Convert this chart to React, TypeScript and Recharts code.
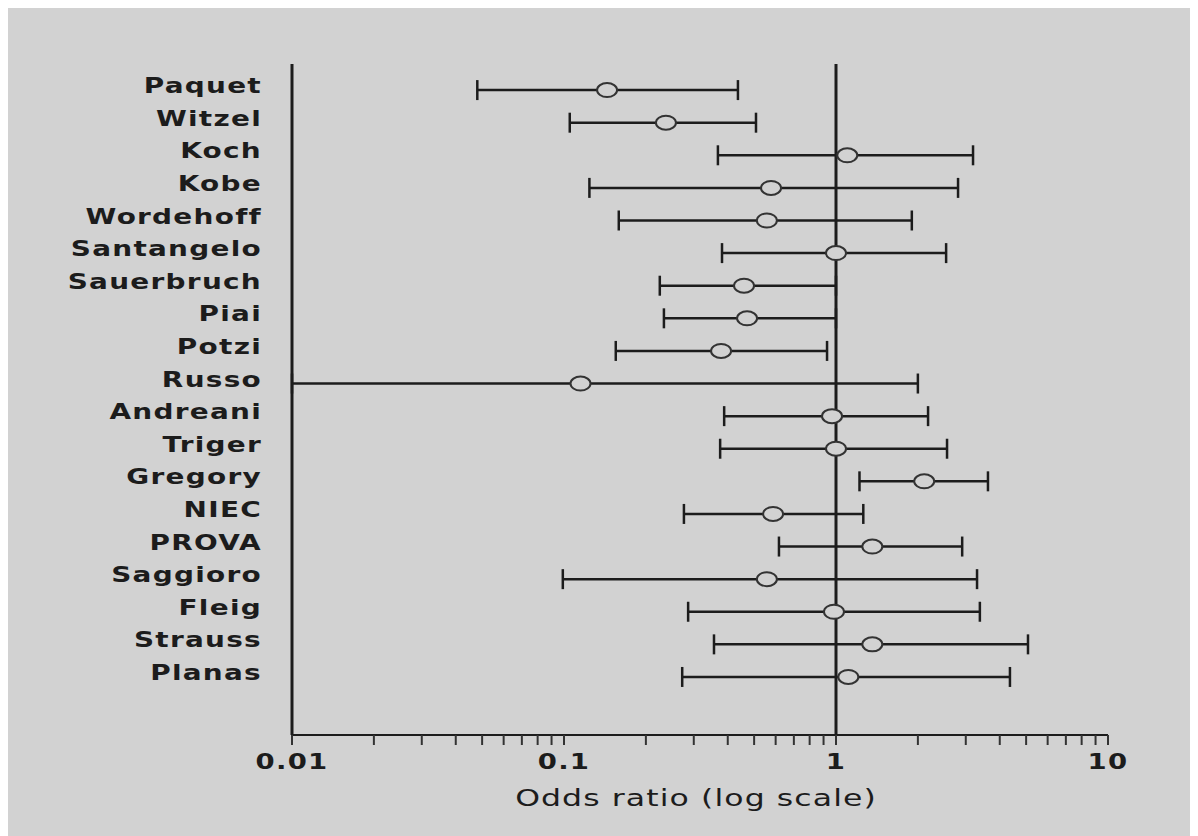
import React from "react";
import {
  ScatterChart,
  Scatter,
  XAxis,
  YAxis,
  ErrorBar,
  ReferenceLine,
  Label,
} from "recharts";

const studies = [
  "Paquet", "Witzel", "Koch", "Kobe", "Wordehoff", "Santangelo", "Sauerbruch",
  "Piai", "Potzi", "Russo", "Andreani", "Triger", "Gregory", "NIEC", "PROVA",
  "Saggioro", "Fleig", "Strauss", "Planas",
];

const oddsRatio = [
  0.144, 0.237, 1.1, 0.577, 0.557, 1.0, 0.459, 0.471, 0.378, 0.115, 0.967,
  1.0, 2.11, 0.587, 1.36, 0.557, 0.983, 1.36, 1.11,
];

const ciLow = [
  0.048, 0.105, 0.368, 0.124, 0.159, 0.381, 0.225, 0.233, 0.155, 0.01, 0.388,
  0.375, 1.22, 0.276, 0.617, 0.099, 0.286, 0.356, 0.272,
];

const ciHigh = [
  0.436, 0.508, 3.19, 2.81, 1.9, 2.54, 1.0, 1.0, 0.927, 2.0, 2.18, 2.56, 3.62,
  1.26, 2.91, 3.3, 3.38, 5.08, 4.36,
];

const xTicks = [
  0.01, 0.02, 0.03, 0.04, 0.05, 0.06, 0.07, 0.08, 0.09,
  0.1, 0.2, 0.3, 0.4, 0.5, 0.6, 0.7, 0.8, 0.9,
  1, 2, 3, 4, 5, 6, 7, 8, 9, 10,
];
const xTickLabels: Record<string, string> = {
  "0.01": "0.01",
  "0.1": "0.1",
  "1": "1",
  "10": "10",
};

const BG = "#d2d2d2";
const INK = "#1c1c1c";
const FONT = "'DejaVu Sans', sans-serif";

const data = studies.map((name, i) => ({
  row: i,
  name,
  or: oddsRatio[i],
  err: [oddsRatio[i] - ciLow[i], ciHigh[i] - oddsRatio[i]],
}));

const StudyTick = (props: any) => {
  const { x, y, payload } = props;
  return (
    <text
      transform={`translate(${x},${y - 3}) scale(1.27,1)`}
      textAnchor="end"
      dominantBaseline="middle"
      fontFamily={FONT}
      fontWeight="bold"
      fontSize={22}
      letterSpacing={1}
      fill={INK}
    >
      {studies[payload.value]}
    </text>
  );
};

const OddsTick = (props: any) => {
  const { x, y, payload } = props;
  const label = xTickLabels[String(payload.value)];
  if (!label) return null;
  return (
    <text
      transform={`translate(${x},${y + 22}) scale(1.25,1)`}
      textAnchor="middle"
      fontFamily={FONT}
      fontWeight="bold"
      fontSize={22}
      letterSpacing={1}
      fill={INK}
    >
      {label}
    </text>
  );
};

const AxisTitle = (props: any) => {
  const vb = props.viewBox;
  return (
    <text
      transform={`translate(${vb.x + vb.width / 2 - 4},${vb.y + 71}) scale(1.37,1)`}
      textAnchor="middle"
      fontFamily={FONT}
      fontSize={23}
      letterSpacing={0.8}
      fill={INK}
    >
      Odds ratio (log scale)
    </text>
  );
};

const Marker = (props: any) => (
  <ellipse
    cx={props.cx}
    cy={props.cy}
    rx={10}
    ry={7}
    fill={BG}
    stroke="#333"
    strokeWidth={2}
  />
);

export default function App() {
  return (
    <div style={{ width: 1190, height: 828, background: BG }}>
      <ScatterChart
        width={1190}
        height={828}
        margin={{ top: 56, right: 90, bottom: 0, left: 0 }}
      >
        <XAxis
          type="number"
          dataKey="or"
          scale="log"
          domain={[0.01, 10]}
          allowDataOverflow
          ticks={xTicks}
          interval={0}
          height={101}
          tickSize={10}
          tickMargin={2}
          tick={<OddsTick />}
          axisLine={{ stroke: INK, strokeWidth: 2 }}
          tickLine={{ stroke: "#333", strokeWidth: 2 }}
        >
          <Label content={<AxisTitle />} />
        </XAxis>
        <YAxis
          type="number"
          dataKey="row"
          reversed
          domain={[-0.8, 19.78]}
          allowDataOverflow
          ticks={studies.map((_, i) => i)}
          interval={0}
          width={284}
          tickSize={0}
          tickMargin={30}
          tickLine={false}
          tick={<StudyTick />}
          axisLine={{ stroke: INK, strokeWidth: 3 }}
        />
        <ReferenceLine x={1} stroke={INK} strokeWidth={3} />
        <Scatter data={data} shape={<Marker />} isAnimationActive={false}>
          <ErrorBar
            dataKey="err"
            direction="x"
            width={10}
            stroke={INK}
            strokeWidth={2.5}
            isAnimationActive={false}
          />
        </Scatter>
      </ScatterChart>
    </div>
  );
}
